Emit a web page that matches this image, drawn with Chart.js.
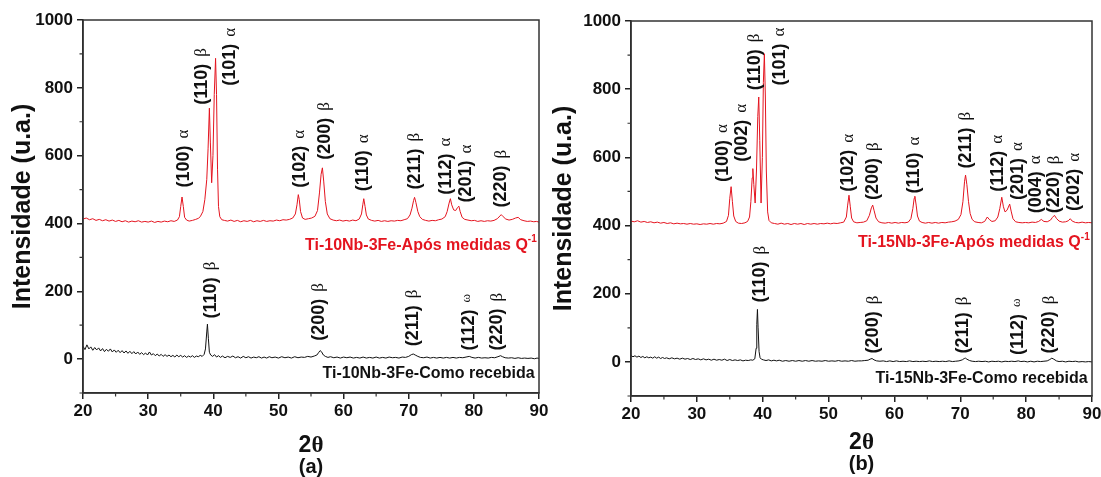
<!DOCTYPE html>
<html>
<head>
<meta charset="utf-8">
<script src="https://cdn.jsdelivr.net/npm/chart.js@4"></script>
<style>
  body { margin: 0; background: #fff; width: 1101px; height: 477px; overflow: hidden; position: relative; }
  #ca { position: absolute; left: 0; top: 0; }
  #cb { position: absolute; left: 541px; top: 0; }
</style>
</head>
<body>
<canvas id="ca" width="560" height="477"></canvas>
<canvas id="cb" width="560" height="477"></canvas>
<script>
// (a) Ti-10Nb-3Fe, after Q^-1 measurements (red)
const angA_apos = [
  20, 20.5, 21, 21.5, 22, 22.5, 23, 23.5, 24, 24.5, 25, 25.5,
  26, 26.5, 27, 27.5, 28, 28.5, 29, 29.5, 30, 30.5, 31, 31.5,
  32, 32.5, 33, 33.5, 34, 34.5, 34.8, 35.0, 35.2, 35.4, 35.6, 35.9,
  36.3, 36.8, 37.3, 37.7, 38.0, 38.4, 38.7, 39.0, 39.2, 39.4, 39.55, 39.75,
  39.95, 40.15, 40.35, 40.5, 40.65, 40.8, 41.0, 41.3, 41.7, 42.2, 42.7, 43.2,
  43.7, 44.2, 44.7, 45.2, 45.7, 46.2, 46.7, 47.2, 47.7, 48.2, 48.7, 49.2,
  49.7, 50.2, 50.7, 51.2, 51.7, 52.2, 52.6, 52.85, 53.05, 53.2, 53.4, 53.7,
  54.1, 54.6, 55.1, 55.6, 56.0, 56.3, 56.55, 56.75, 56.95, 57.2, 57.5, 57.9,
  58.4, 58.9, 59.4, 59.9, 60.4, 60.9, 61.4, 61.9, 62.4, 62.75, 62.95, 63.1,
  63.3, 63.5, 63.8, 64.3, 64.8, 65.3, 65.8, 66.3, 66.8, 67.3, 67.8, 68.3,
  68.8, 69.3, 69.8, 70.2, 70.5, 70.75, 70.9, 71.1, 71.4, 71.7, 72.1, 72.6,
  73.1, 73.6, 74.1, 74.6, 75.1, 75.6, 75.9, 76.2, 76.4, 76.6, 76.9, 77.2,
  77.5, 77.7, 77.9, 78.2, 78.6, 79.1, 79.6, 80.1, 80.6, 81.1, 81.6, 82.1,
  82.6, 83.1, 83.6, 84.0, 84.2, 84.5, 84.9, 85.4, 85.9, 86.4, 86.8, 87.2,
  87.7, 88.2, 88.7, 89.2, 89.6, 90
];
const intA_apos = [
  413, 416, 411, 414, 409, 412, 408, 411, 407, 410, 406, 409,
  405, 408, 404, 407, 405, 408, 404, 406, 404, 407, 403, 406,
  404, 407, 405, 408, 406, 410, 420, 450, 478, 450, 418, 410,
  407, 409, 412, 415, 420, 435, 470, 530, 620, 740, 640, 520,
  600, 780, 887, 780, 560, 450, 420, 411, 409, 407, 410, 406,
  409, 405, 408, 406, 409, 405, 408, 406, 409, 406, 408, 407,
  410, 408, 411, 410, 412, 416, 428, 455, 485, 470, 435, 416,
  412, 414, 416, 421, 438, 490, 545, 564, 525, 465, 428, 414,
  410, 408, 410, 407, 409, 407, 410, 408, 413, 428, 455, 473,
  450, 425, 413, 409, 407, 409, 406, 408, 406, 408, 407, 409,
  408, 411, 414, 425, 445, 468, 477, 462, 435, 420, 412, 409,
  407, 409, 408, 411, 413, 420, 435, 460, 473, 455, 440, 438,
  447, 451, 435, 418, 412, 410, 408, 409, 406, 408, 406, 408,
  407, 409, 414, 422, 426, 420, 413, 410, 412, 416, 418, 411,
  408, 406, 407, 405, 406, 404
];

// (a) Ti-10Nb-3Fe, as received (black)
const angA_como = [
  20, 20.3, 20.6, 20.9, 21.2, 21.5, 21.8, 22.1, 22.4, 22.7, 23, 23.3,
  23.6, 23.9, 24.2, 24.5, 24.8, 25.1, 25.4, 25.7, 26, 26.3, 26.6, 26.9,
  27.2, 27.5, 27.8, 28.1, 28.4, 28.7, 29, 29.3, 29.6, 29.9, 30.2, 30.5,
  30.8, 31.1, 31.4, 31.7, 32, 32.3, 32.6, 32.9, 33.2, 33.5, 33.8, 34.1,
  34.4, 34.7, 35, 35.3, 35.6, 35.9, 36.2, 36.5, 36.8, 37.1, 37.4, 37.7,
  38, 38.3, 38.6, 38.8, 39.0, 39.1, 39.25, 39.4, 39.6, 39.9, 40.2, 40.5,
  40.8, 41.1, 41.4, 41.8, 42.2, 42.6, 43, 43.4, 43.8, 44.2, 44.6, 45,
  45.4, 45.8, 46.2, 46.6, 47, 47.4, 47.8, 48.2, 48.6, 49, 49.5, 50,
  50.5, 51, 51.5, 52, 52.5, 53, 53.5, 54, 54.5, 55, 55.5, 55.9,
  56.2, 56.4, 56.6, 56.9, 57.2, 57.6, 58, 58.5, 59, 59.5, 60, 60.5,
  61, 61.5, 62, 62.5, 63, 63.5, 64, 64.5, 65, 65.5, 66, 66.5,
  67, 67.5, 68, 68.5, 69, 69.5, 70, 70.4, 70.7, 71, 71.4, 71.8,
  72.3, 72.8, 73.3, 73.8, 74.3, 74.8, 75.3, 75.8, 76.3, 76.8, 77.3, 77.8,
  78.3, 78.8, 79.3, 79.7, 80.2, 80.7, 81.2, 81.7, 82.2, 82.7, 83.2, 83.7,
  84.1, 84.4, 84.8, 85.3, 85.8, 86.3, 86.8, 87.3, 87.8, 88.3, 88.8, 89.3,
  89.7, 90
];
const intA_como = [
  38, 28, 42, 30, 36, 26, 34, 27, 33, 24, 31, 22,
  29, 23, 30, 21, 27, 20, 26, 19, 25, 18, 24, 17,
  23, 16, 22, 15, 21, 14, 19, 13, 18, 12, 21, 12,
  16, 10, 15, 9, 14, 8, 13, 8, 12, 7, 11, 6,
  12, 7, 11, 6, 10, 5, 9, 6, 10, 5, 9, 7,
  11, 8, 14, 30, 80, 103, 60, 20, 12, 8, 13, 6,
  10, 5, 9, 4, 8, 5, 9, 4, 7, 3, 8, 4,
  7, 3, 6, 4, 7, 3, 6, 3, 7, 4, 6, 3,
  7, 4, 6, 3, 7, 4, 6, 5, 8, 6, 9, 12,
  20, 25, 22, 12, 8, 5, 7, 4, 6, 3, 6, 4,
  6, 3, 5, 3, 6, 3, 5, 3, 6, 3, 5, 3,
  6, 4, 5, 3, 6, 5, 8, 13, 15, 12, 8, 5,
  4, 6, 3, 5, 3, 5, 3, 5, 3, 5, 3, 5,
  4, 6, 8, 5, 3, 5, 3, 4, 3, 5, 4, 7,
  10, 7, 4, 3, 4, 2, 4, 2, 3, 2, 3, 1,
  3, 2
];

// (b) Ti-15Nb-3Fe, after Q^-1 measurements (red)
const angB_apos = [
  20, 20.5, 21, 21.5, 22, 22.5, 23, 23.5, 24, 24.5, 25, 25.5,
  26, 26.5, 27, 27.5, 28, 28.5, 29, 29.5, 30, 30.5, 31, 31.5,
  32, 32.5, 33, 33.5, 34, 34.5, 34.8, 35.0, 35.2, 35.4, 35.6, 35.9,
  36.3, 36.8, 37.3, 37.7, 38.0, 38.2, 38.4, 38.5, 38.65, 38.85, 39.05, 39.25,
  39.4, 39.55, 39.75, 39.95, 40.1, 40.25, 40.4, 40.55, 40.75, 40.95, 41.3, 41.8,
  42.3, 42.8, 43.3, 43.8, 44.3, 44.8, 45.3, 45.8, 46.3, 46.8, 47.3, 47.8,
  48.3, 48.8, 49.3, 49.8, 50.3, 50.8, 51.3, 51.8, 52.3, 52.7, 52.9, 53.1,
  53.3, 53.5, 53.8, 54.3, 54.8, 55.3, 55.8, 56.2, 56.5, 56.7, 56.9, 57.2,
  57.6, 58.1, 58.6, 59.1, 59.6, 60.1, 60.6, 61.1, 61.6, 62.1, 62.5, 62.8,
  63.0, 63.1, 63.3, 63.5, 63.8, 64.2, 64.7, 65.2, 65.7, 66.2, 66.7, 67.2,
  67.7, 68.2, 68.7, 69.2, 69.7, 70.1, 70.4, 70.65, 70.8, 71.0, 71.25, 71.5,
  71.8, 72.2, 72.7, 73.2, 73.7, 74.1, 74.4, 74.8, 75.3, 75.7, 76.0, 76.3,
  76.55, 76.8, 77.1, 77.5, 77.75, 78.0, 78.4, 78.9, 79.4, 79.9, 80.4, 80.9,
  81.4, 81.9, 82.3, 82.7, 83.2, 83.7, 84.0, 84.3, 84.6, 85.0, 85.5, 86.0,
  86.4, 86.7, 87.0, 87.5, 88.0, 88.5, 89.0, 89.5, 90
];
const intB_apos = [
  413, 411, 414, 410, 412, 409, 411, 408, 410, 407, 409, 406,
  408, 405, 407, 405, 406, 404, 406, 404, 405, 403, 405, 404,
  406, 404, 406, 405, 407, 412, 430, 480, 514, 470, 428, 412,
  407, 406, 408, 412, 425, 470, 540, 567, 520, 466, 560, 720,
  777, 650, 466, 600, 820, 904, 780, 560, 440, 415, 408, 406,
  404, 407, 404, 406, 403, 406, 404, 406, 403, 406, 404, 406,
  404, 406, 405, 407, 405, 407, 406, 408, 410, 425, 460, 489,
  455, 422, 411, 408, 409, 410, 414, 430, 452, 460, 445, 422,
  411, 408, 407, 409, 407, 409, 407, 409, 408, 410, 420, 450,
  480, 486, 460, 428, 413, 409, 407, 409, 407, 409, 407, 409,
  408, 410, 411, 413, 418, 432, 470, 530, 548, 520, 470, 435,
  418, 411, 409, 408, 412, 425, 418, 412, 414, 425, 450, 483,
  455, 440, 445, 463, 440, 420, 411, 409, 408, 409, 408, 410,
  409, 412, 418, 412, 411, 416, 424, 430, 421, 413, 410, 411,
  414, 420, 413, 409, 408, 410, 408, 409, 408
];

// (b) Ti-15Nb-3Fe, as received (black)
const angB_como = [
  20, 20.3, 20.6, 20.9, 21.2, 21.5, 21.8, 22.1, 22.4, 22.7, 23, 23.3,
  23.6, 23.9, 24.2, 24.5, 24.8, 25.1, 25.4, 25.8, 26.2, 26.6, 27, 27.4,
  27.8, 28.2, 28.6, 29, 29.4, 29.8, 30.2, 30.6, 31, 31.4, 31.8, 32.2,
  32.6, 33, 33.4, 33.8, 34.2, 34.6, 35, 35.4, 35.8, 36.2, 36.6, 37,
  37.4, 37.8, 38.2, 38.5, 38.8, 39.0, 39.1, 39.2, 39.3, 39.45, 39.6, 39.8,
  40.1, 40.5, 40.9, 41.3, 41.7, 42.1, 42.5, 43, 43.5, 44, 44.5, 45,
  45.5, 46, 46.5, 47, 47.5, 48, 48.5, 49, 49.5, 50, 50.5, 51,
  51.5, 52, 52.5, 53, 53.5, 54, 54.5, 55, 55.5, 56, 56.3, 56.6,
  56.9, 57.3, 57.8, 58.3, 58.8, 59.3, 59.8, 60.3, 60.8, 61.3, 61.8, 62.3,
  62.8, 63.3, 63.8, 64.3, 64.8, 65.3, 65.8, 66.3, 66.8, 67.3, 67.8, 68.3,
  68.8, 69.3, 69.8, 70.3, 70.6, 70.8, 71.0, 71.4, 71.8, 72.3, 72.8, 73.3,
  73.8, 74.3, 74.8, 75.3, 75.8, 76.3, 76.8, 77.3, 77.8, 78.3, 78.8, 79.2,
  79.7, 80.2, 80.7, 81.2, 81.7, 82.2, 82.7, 83.2, 83.6, 83.9, 84.2, 84.6,
  85, 85.5, 86, 86.5, 87, 87.5, 88, 88.5, 89, 89.5, 90
];
const intB_como = [
  19, 15, 18, 14, 17, 13, 16, 12, 15, 12, 14, 11,
  15, 11, 14, 10, 13, 10, 12, 9, 12, 9, 11, 8,
  11, 8, 10, 7, 10, 7, 9, 6, 9, 6, 8, 5,
  8, 5, 7, 5, 8, 4, 7, 4, 6, 4, 6, 3,
  5, 4, 6, 5, 9, 40, 110, 154, 100, 30, 12, 8,
  6, 4, 6, 3, 5, 3, 5, 2, 4, 2, 4, 2,
  4, 2, 4, 2, 4, 2, 3, 2, 4, 2, 3, 2,
  4, 2, 3, 2, 4, 2, 3, 3, 4, 5, 8, 10,
  6, 3, 2, 3, 1, 3, 1, 3, 1, 2, 1, 3,
  1, 2, 1, 2, 1, 3, 1, 2, 1, 2, 1, 3,
  1, 2, 3, 6, 10, 11, 8, 4, 2, 1, 2, 1,
  2, 0, 2, 1, 2, 0, 2, 1, 2, 1, 3, 1,
  2, 0, 2, 0, 2, 1, 2, 3, 7, 11, 8, 3,
  1, 2, 0, 2, 1, 2, 0, 1, 0, 1, 0
];

// peak labels: text, phase, angle and intensity where the rotated label starts
const hklA_apos = ['(100)', '(110)', '(101)', '(102)', '(200)', '(110)', '(211)', '(112)', '(201)', '(220)'];
const phA_apos  = ['α', 'β', 'α', 'α', 'β', 'α', 'β', 'α', 'α', 'β'];
const posA_apos = [35.5, 38.2, 42.6, 53.3, 57.1, 63.0, 70.9, 75.7, 78.8, 84.2];
const levA_apos = [506, 750, 806, 505, 588, 495, 500, 485, 462, 447];

const hklA_como = ['(110)', '(200)', '(211)', '(112)', '(220)'];
const phA_como  = ['β', 'β', 'β', 'ω', 'β'];
const posA_como = [39.6, 56.2, 70.6, 79.2, 83.6];
const levA_como = [120, 54, 38, 25, 25];

const hklB_apos = ['(100)', '(002)', '(110)', '(101)', '(102)', '(200)', '(110)', '(211)', '(112)', '(201)', '(004)', '(220)', '(202)'];
const phB_apos  = ['α', 'α', 'β', 'α', 'α', 'β', 'α', 'β', 'α', 'α', 'α', 'β', 'α'];
const posB_apos = [33.9, 36.8, 38.8, 42.6, 53.0, 56.8, 63.0, 70.8, 75.7, 78.7, 81.5, 84.3, 87.3];
const levB_apos = [528, 587, 797, 811, 499, 475, 494, 567, 499, 475, 436, 436, 443];

const hklB_como = ['(110)', '(200)', '(211)', '(112)', '(220)'];
const phB_como  = ['β', 'β', 'β', 'ω', 'β'];
const posB_como = [39.6, 56.8, 70.4, 78.8, 83.5];
const levB_como = [174, 25, 25, 20, 25];

const namesA = ['Ti-10Nb-3Fe-Após medidas Q', 'Ti-10Nb-3Fe-Como recebida'];
const namesB = ['Ti-15Nb-3Fe-Após medidas Q', 'Ti-15Nb-3Fe-Como recebida'];
const nameLevA = [335, -44];
const nameLevB = [349, -50];

const xTicks = [20, 30, 40, 50, 60, 70, 80, 90];
const yTicks = [0, 200, 400, 600, 800, 1000];
const xMinor = [25, 35, 45, 55, 65, 75, 85];
const yMinor = [-100, 100, 300, 500, 700, 900];

const RED = '#e4141f';
const INK = '#111';
const SANS = '"Liberation Sans", Arial, sans-serif';
const SERIF = '"Liberation Serif", "Times New Roman", serif';

Chart.defaults.font.family = SANS;
Chart.defaults.color = INK;

function pts(ang, val) {
  return ang.map((a, i) => ({ x: a, y: val[i] }));
}

const panelPlugin = {
  id: 'panel',
  afterDraw(chart, args, o) {
    const { ctx, chartArea: a, scales: { x, y } } = chart;
    ctx.save();
    ctx.strokeStyle = '#333';
    ctx.lineWidth = 1.5;
    ctx.strokeRect(a.left, a.top, a.right - a.left, a.bottom - a.top);

    // minor ticks
    ctx.lineWidth = 1.2;
    ctx.beginPath();
    xMinor.forEach(v => { const p = x.getPixelForValue(v); ctx.moveTo(p, a.bottom); ctx.lineTo(p, a.bottom + 3.5); });
    yMinor.forEach(v => { const p = y.getPixelForValue(v); ctx.moveTo(a.left, p); ctx.lineTo(a.left - 3.5, p); });
    ctx.stroke();

    // peak labels
    ctx.fillStyle = INK;
    ctx.textBaseline = 'middle';
    ctx.textAlign = 'left';
    o.peaks.forEach(g => g.hkl.forEach((t, i) => {
      ctx.save();
      ctx.translate(x.getPixelForValue(g.pos[i]), y.getPixelForValue(g.lev[i]));
      ctx.rotate(-Math.PI / 2);
      ctx.font = 'bold 18px ' + SANS;
      ctx.fillText(t, 0, 0);
      const w = ctx.measureText(t).width + 7;
      const om = g.ph[i] === 'ω';
      ctx.font = (om ? '13px ' : '17px ') + SERIF;
      ctx.fillText(g.ph[i], w, om ? -2 : 0);
      ctx.restore();
    }));

    // sample names
    const xr = x.getPixelForValue(89.65);
    ctx.textAlign = 'right';
    ctx.font = 'bold 10px ' + SANS;
    const sup = ctx.measureText('-1').width;
    ctx.fillStyle = RED;
    ctx.fillText('-1', xr, y.getPixelForValue(o.nameLev[0]) - 6);
    ctx.font = 'bold 16px ' + SANS;
    ctx.fillText(o.names[0], xr - sup, y.getPixelForValue(o.nameLev[0]));
    ctx.fillStyle = INK;
    ctx.fillText(o.names[1], xr - 2, y.getPixelForValue(o.nameLev[1]));

    // x title and panel letter
    const cx = (a.left + a.right) / 2;
    ctx.textAlign = 'left';
    ctx.font = 'bold 23px ' + SANS;
    const w2 = ctx.measureText('2').width;
    ctx.font = 'bold 23px ' + SERIF;
    const wt = ctx.measureText('θ').width;
    const x0 = cx - (w2 + wt) / 2;
    ctx.font = 'bold 23px ' + SANS;
    ctx.fillText('2', x0, o.titleY);
    ctx.font = 'bold 23px ' + SERIF;
    ctx.fillText('θ', x0 + w2, o.titleY);
    ctx.textAlign = 'center';
    ctx.font = 'bold 20px ' + SANS;
    ctx.fillText(o.letter, cx, o.letterY);
    ctx.restore();
  }
};

function makePanel(id, apos, como, yWidth, xHeight, pad, opts) {
  return new Chart(document.getElementById(id), {
    type: 'line',
    data: {
      datasets: [
        { data: apos, borderColor: RED, borderWidth: 1, pointRadius: 0, tension: 0, fill: false },
        { data: como, borderColor: INK, borderWidth: 1, pointRadius: 0, tension: 0, fill: false }
      ]
    },
    options: {
      responsive: false,
      animation: false,
      events: [],
      layout: { padding: pad },
      plugins: { legend: { display: false }, tooltip: { enabled: false }, panel: opts },
      scales: {
        x: {
          type: 'linear', min: 20, max: 90,
          afterBuildTicks: s => { s.ticks = xTicks.map(v => ({ value: v })); },
          afterFit: s => { s.height = xHeight; s.paddingLeft = 0; s.paddingRight = 0; },
          grid: { drawOnChartArea: false, tickLength: 6, color: '#222', lineWidth: 1.5 },
          border: { color: '#222', width: 1.5 },
          ticks: { font: { size: 17, weight: 'bold' }, color: INK, padding: 2, maxRotation: 0, autoSkip: false,
                   callback: v => String(v) }
        },
        y: {
          type: 'linear', min: -100, max: 1000,
          afterBuildTicks: s => { s.ticks = yTicks.map(v => ({ value: v })); },
          afterFit: s => { s.width = yWidth; s.paddingTop = 0; s.paddingBottom = 0; },
          grid: { drawOnChartArea: false, tickLength: 6, color: '#222', lineWidth: 1.5 },
          border: { color: '#222', width: 1.5 },
          ticks: { font: { size: 17, weight: 'bold' }, color: INK, padding: 4, callback: v => String(v) },
          title: { display: true, text: 'Intensidade (u.a.)', font: { size: 25, weight: 'bold' }, color: INK, padding: { top: 8, bottom: 0 } }
        }
      }
    },
    plugins: [panelPlugin]
  });
}

makePanel('ca', pts(angA_apos, intA_apos), pts(angA_como, intA_como), 83, 84,
  { left: 0, right: 21, top: 20, bottom: 0 },
  {
    peaks: [
      { hkl: hklA_apos, ph: phA_apos, pos: posA_apos, lev: levA_apos },
      { hkl: hklA_como, ph: phA_como, pos: posA_como, lev: levA_como }
    ],
    names: namesA, nameLev: nameLevA, titleY: 446, letter: '(a)', letterY: 467
  });

makePanel('cb', pts(angB_apos, intB_apos), pts(angB_como, intB_como), 90, 81,
  { left: 0, right: 9, top: 21, bottom: 0 },
  {
    peaks: [
      { hkl: hklB_apos, ph: phB_apos, pos: posB_apos, lev: levB_apos },
      { hkl: hklB_como, ph: phB_como, pos: posB_como, lev: levB_como }
    ],
    names: namesB, nameLev: nameLevB, titleY: 443, letter: '(b)', letterY: 464
  });
</script>
</body>
</html>
